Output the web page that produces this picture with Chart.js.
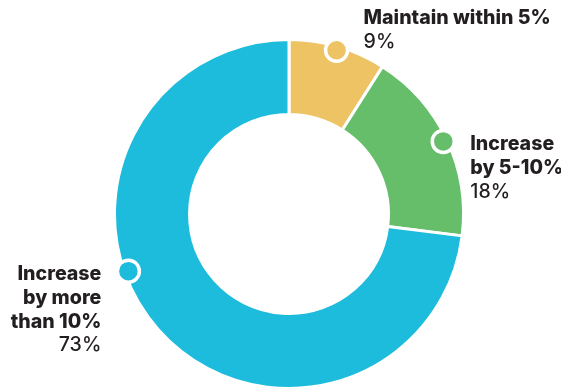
<!DOCTYPE html>
<html>
<head>
<meta charset="utf-8">
<script src="https://cdn.jsdelivr.net/npm/chart.js@4/dist/chart.umd.min.js"></script>
<style>
  html, body { margin: 0; padding: 0; background: #fff; }
  #wrap { width: 561px; height: 390px; }
</style>
</head>
<body>
<div id="wrap"><canvas id="chart_growth"></canvas></div>
<script>
var categories = ['Maintain within 5%', 'Increase by 5-10%', 'Increase by more than 10%'];
var shares = [9, 18, 73];
var sliceColors = ['#EDC363', '#66BE6A', '#1DBCDC'];

// label text split into lines, plus where the marker dot sits along each slice
var labelLines = [
    ['Maintain within 5%'],
    ['Increase', 'by 5-10%'],
    ['Increase', 'by more', 'than 10%']
];
var dotAlong = [0.5, 0.5, 0.583];
var labelSide = ['right', 'right', 'left'];
var labelShiftY = [-26, 9, 9];

var calloutPlugin = {
    id: 'callouts',
    afterDatasetsDraw: function(chart) {
        var ctx = chart.ctx;
        var meta = chart.getDatasetMeta(0);
        meta.data.forEach(function(arc, i) {
            var p = arc.getProps(['x', 'y', 'startAngle', 'endAngle', 'outerRadius'], true);
            var a = p.startAngle + (p.endAngle - p.startAngle) * dotAlong[i];
            var r = p.outerRadius - 4;
            var dx = p.x + Math.cos(a) * r;
            var dy = p.y + Math.sin(a) * r;

            ctx.save();
            ctx.beginPath();
            ctx.arc(dx, dy, 11, 0, Math.PI * 2);
            ctx.fillStyle = sliceColors[i];
            ctx.fill();
            ctx.lineWidth = 3.5;
            ctx.strokeStyle = '#ffffff';
            ctx.stroke();

            var right = labelSide[i] === 'right';
            var tx = right ? dx + 27 : dx - 27;
            var ty = dy + labelShiftY[i];
            ctx.textAlign = right ? 'left' : 'right';
            ctx.textBaseline = 'alphabetic';
            ctx.fillStyle = '#231F20';
            ctx.font = '800 19.6px Inter';
            labelLines[i].forEach(function(line, k) {
                ctx.fillText(line, tx, ty + k * 23.7);
            });
            ctx.font = '500 19.6px Inter';
            ctx.fillText(shares[i] + '%', tx, ty + labelLines[i].length * 23.7);
            ctx.restore();
        });
    }
};

window.onload = function() {
    var ctx = document.getElementById('chart_growth');
    window.myDonut = new Chart(ctx, {
        type: 'doughnut',
        data: {
            labels: categories,
            datasets: [{
                data: shares,
                backgroundColor: sliceColors,
                borderColor: '#ffffff',
                borderWidth: 3
            }]
        },
        options: {
            responsive: true,
            maintainAspectRatio: false,
            animation: false,
            cutout: '57%',
            layout: {
                padding: { top: 38, bottom: 0, left: 112, right: 95 }
            },
            plugins: {
                legend: { display: false },
                tooltip: { enabled: false }
            }
        },
        plugins: [calloutPlugin]
    });
};
</script>
</body>
</html>
